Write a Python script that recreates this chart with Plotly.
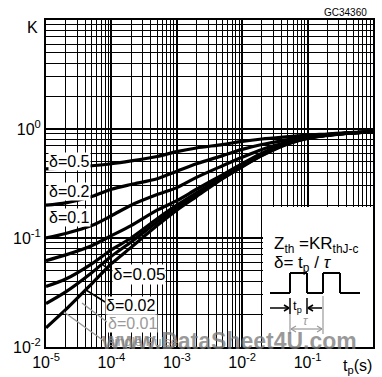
import plotly.graph_objects as go

# ---- data ----
t_p = [1e-5, 2e-5, 5e-5, 1e-4, 2e-4, 5e-4, 1e-3, 2e-3, 5e-3, 1e-2, 2e-2, 5e-2, 1e-1, 2e-1, 5e-1, 1.0]
k_d050 = [0.43, 0.44, 0.46, 0.48, 0.51, 0.56, 0.62, 0.67, 0.72, 0.77, 0.81, 0.85, 0.88, 0.90, 0.93, 0.94]
k_d020 = [0.20, 0.21, 0.24, 0.28, 0.31, 0.35, 0.41, 0.48, 0.57, 0.65, 0.72, 0.80, 0.86, 0.89, 0.92, 0.94]
k_d010 = [0.10, 0.11, 0.13, 0.16, 0.20, 0.25, 0.29, 0.36, 0.46, 0.55, 0.65, 0.76, 0.84, 0.88, 0.92, 0.94]
k_d005 = [0.062, 0.070, 0.085, 0.105, 0.13, 0.18, 0.22, 0.28, 0.38, 0.48, 0.60, 0.75, 0.83, 0.88, 0.92, 0.94]
k_d002 = [0.036, 0.042, 0.058, 0.078, 0.10, 0.15, 0.20, 0.26, 0.36, 0.46, 0.58, 0.74, 0.83, 0.88, 0.92, 0.94]
k_d001 = [0.025, 0.032, 0.048, 0.068, 0.092, 0.14, 0.19, 0.25, 0.355, 0.455, 0.575, 0.735, 0.825, 0.88, 0.92, 0.94]
k_single = [0.015, 0.022, 0.038, 0.058, 0.082, 0.13, 0.18, 0.24, 0.35, 0.45, 0.57, 0.73, 0.82, 0.87, 0.92, 0.94]
series = [k_d050, k_d020, k_d010, k_d005, k_d002, k_d001, k_single]

x_tickvals = [1e-5, 1e-4, 1e-3, 1e-2, 1e-1]
x_ticktext = ["10<sup>-5</sup>", "10<sup>-4</sup>", "10<sup>-3</sup>", "10<sup>-2</sup>", "10<sup>-1</sup>"]
y_tickvals = [1e-2, 1e-1, 1e0]
y_ticktext = ["10<sup>-2</sup>", "10<sup>-1</sup>", "10<sup>0</sup>"]

W, H = 382, 377
L, R, T, B = 46, 9, 20, 30
PW, PH = W - L - R, H - T - B


def px(x, y):
    """pixel position -> paper coords"""
    return (x - L) / PW, (H - B - y) / PH


FONT = "Liberation Sans, Arial, sans-serif"
fig = go.Figure()
for k in series:
    fig.add_trace(go.Scatter(x=t_p, y=k, mode="lines", line=dict(color="black", width=3.2, shape="spline", smoothing=0.8),
                             showlegend=False, hoverinfo="skip"))

shapes = []
annotations = []

# inset white box
bx0, by0 = px(263, 207)
bx1, by1 = px(373, 347)
shapes.append(dict(type="rect", xref="paper", yref="paper", x0=bx0, y0=by1, x1=bx1, y1=by0,
                   fillcolor="white", line=dict(width=0), layer="above"))


def line(p0, p1, color="black", width=2):
    a = px(*p0)
    b = px(*p1)
    shapes.append(dict(type="line", xref="paper", yref="paper", x0=a[0], y0=a[1], x1=b[0], y1=b[1],
                       line=dict(color=color, width=width), layer="above"))


# pulse waveform
wave = [(270, 293), (290, 293), (290, 273), (307, 273), (307, 293), (323, 293), (323, 273), (340, 273), (340, 293), (360, 293)]
for a, b in zip(wave[:-1], wave[1:]):
    line(a, b, width=2)
# tp markers
line((290, 298), (290, 314), width=1.5)
line((307, 298), (307, 314), width=1.5)
line((270, 308), (289, 308), width=1.5)
line((308, 308), (322, 308), width=1.5)
line((284, 305), (289, 308), width=1.5)
line((284, 311), (289, 308), width=1.5)
line((313, 305), (308, 308), width=1.5)
line((313, 311), (308, 308), width=1.5)
# tau bracket (grey)
GR = "#9a9a9a"
line((290, 314), (290, 334), color=GR, width=1.2)
line((323, 296), (323, 334), color=GR, width=1.2)
line((291, 329), (322, 329), color=GR, width=1.2)
line((291, 329), (296, 326), color=GR, width=1.2)
line((291, 329), (296, 332), color=GR, width=1.2)
line((322, 329), (317, 326), color=GR, width=1.2)
line((322, 329), (317, 332), color=GR, width=1.2)

# leader lines
line((112, 272), (103, 265), width=1.5)
line((105, 302), (86, 290), width=1.5)
line((107, 322), (82, 303), color=GR, width=1.5)
line((104, 341), (64, 312), color=GR, width=1.5)


def text(x, y, s, size=15, color="black", xanchor="center", bg=None):
    a = px(x, y)
    d = dict(xref="paper", yref="paper", x=a[0], y=a[1], text=s, showarrow=False,
             font=dict(family=FONT, size=size, color=color), xanchor=xanchor, yanchor="middle")
    if bg:
        d["bgcolor"] = bg
        d["borderpad"] = 0
    annotations.append(d)


text(48, 161, "δ=0.5", size=16, xanchor="left", bg="white")
text(48, 191, "δ=0.2", size=16, xanchor="left", bg="white")
text(48, 218, "δ=0.1", size=16, xanchor="left", bg="white")
text(112, 274, "δ=0.05", size=17, xanchor="left", bg="white")
text(105, 305, "δ=0.02", size=16, xanchor="left", bg="white")
text(107, 323, "δ=0.01", size=16, xanchor="left", color=GR, bg="white")
text(106, 341, "single Pulse", xanchor="left", color=GR, size=13)

text(272, 245, "Z<sub>th</sub> =KR<sub>thJ-c</sub>", xanchor="left", size=17)
text(272, 264, "δ= t<sub>p</sub> / <i>τ</i>", xanchor="left", size=17)
text(291, 306, "t<sub>p</sub>", xanchor="left", size=13)
text(306, 321, "<i>τ</i>", size=12, color=GR)

text(32, 27, "K", size=16)
text(345, 13, "GC34360", size=10)
text(357, 366, "t<sub>p</sub>(s)", size=16)

# watermark
text(229, 341, "<b>www.DataSheet4U.com</b>", size=23, color="rgba(120,120,120,0.75)")

axis_common = dict(type="log", showline=True, linecolor="black", linewidth=2, mirror=True,
                   showgrid=True, gridcolor="black", gridwidth=2, ticks="", zeroline=False,
                   tickfont=dict(family=FONT, size=16, color="black"),
                   minor=dict(dtick="D1", showgrid=True, gridcolor="black", gridwidth=1.2, ticks=""))

fig.update_xaxes(range=[-5, 0], tickvals=x_tickvals, ticktext=x_ticktext, automargin=False, **axis_common)
fig.update_yaxes(range=[-2, 1], tickvals=y_tickvals, ticktext=y_ticktext, automargin=False, **axis_common)

fig.update_layout(width=W, height=H, margin=dict(l=L, r=R, t=T, b=B), plot_bgcolor="white",
                  paper_bgcolor="white", shapes=shapes, annotations=annotations, showlegend=False)

fig.write_html("out.html")
